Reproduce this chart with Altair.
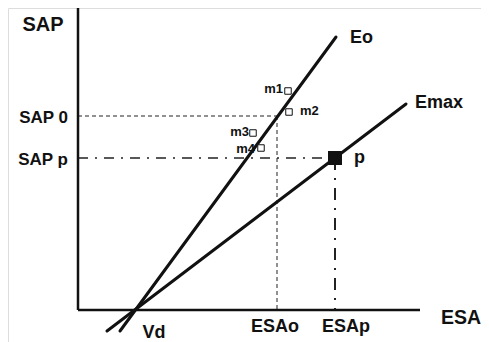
import altair as alt
import pandas as pd

# ---- schematic values (units: arbitrary, origin at the axes' corner) ----
x_axis_end = 342
y_axis_end = 302
vd = 57                 # volume intercept Vd
esa_o, sap_0 = 199, 194 # operating point on Eo
esa_p, sap_p = 257, 152 # point p on Emax

line_names = ["Eo", "Emax"]
line_x1 = [42, 29]
line_y1 = [-21, -21]
line_x2 = [258, 328]
line_y2 = [273, 206]

m_names = ["m1", "m2", "m3", "m4"]
m_x = [210, 211, 175, 183]
m_y = [219, 198, 177, 162]

FONT = "Liberation Sans"
X_DOM = [-70, 403]
Y_DOM = [-32, 302]
W, H = 473, 334

xs = alt.Scale(domain=X_DOM, nice=False, zero=False)
ys = alt.Scale(domain=Y_DOM, nice=False, zero=False)


def rules(df, **mark):
    return alt.Chart(df).mark_rule(**mark).encode(
        x=alt.X("x:Q", scale=xs, axis=None),
        y=alt.Y("y:Q", scale=ys, axis=None),
        x2="x2:Q",
        y2="y2:Q",
    )


axes_df = pd.DataFrame({"x": [0, 0], "y": [0, 0], "x2": [0, x_axis_end], "y2": [y_axis_end, 0]})
lines_df = pd.DataFrame({"name": line_names, "x": line_x1, "y": line_y1, "x2": line_x2, "y2": line_y2})
dash_df = pd.DataFrame({"x": [0, esa_o], "y": [sap_0, sap_0], "x2": [esa_o, esa_o], "y2": [sap_0, 0]})
dd_h = pd.DataFrame({"x": [0], "y": [sap_p], "x2": [esa_p], "y2": [sap_p]})
dd_v = pd.DataFrame({"x": [esa_p], "y": [sap_p], "x2": [esa_p], "y2": [0]})

axes = rules(axes_df, color="#111", strokeWidth=2.5, strokeCap="butt")
main = rules(lines_df, color="#111", strokeWidth=3, strokeCap="round")
dashed = rules(dash_df, color="#222", strokeWidth=1, strokeDash=[4, 3])
ddh = rules(dd_h, color="#222", strokeWidth=1.6, strokeDash=[10, 7, 2, 7])
ddv = rules(dd_v, color="#222", strokeWidth=2, strokeDash=[12, 8, 2, 8])

m_df = pd.DataFrame({"name": m_names, "x": m_x, "y": m_y})
msq = alt.Chart(m_df).mark_square(size=42, filled=False, color="#111", strokeWidth=1, fill="white", fillOpacity=1).encode(
    x=alt.X("x:Q", scale=xs, axis=None), y=alt.Y("y:Q", scale=ys, axis=None)
)
p_df = pd.DataFrame({"x": [esa_p], "y": [sap_p]})
psq = alt.Chart(p_df).mark_square(size=196, color="#111", opacity=1).encode(
    x=alt.X("x:Q", scale=xs, axis=None), y=alt.Y("y:Q", scale=ys, axis=None)
)

# ---- text labels ----
def texts(df, align, size):
    return alt.Chart(df).mark_text(
        align=align, baseline="alphabetic", font=FONT, fontWeight="bold", fontSize=size, color="#111"
    ).encode(
        x=alt.X("x:Q", scale=xs, axis=None), y=alt.Y("y:Q", scale=ys, axis=None), text="t:N"
    )

right_big = pd.DataFrame({"t": ["SAP 0", "SAP p"], "x": [-10, -10], "y": [187, 145]})
left_big = pd.DataFrame({"t": ["Eo", "Emax", "p"], "x": [272, 337, 276], "y": [267, 202, 147]})
center_big = pd.DataFrame({"t": ["Vd", "ESAo", "ESAp"], "x": [76, 197, 268], "y": [-28, -22, -22]})
title_y = pd.DataFrame({"t": ["SAP"], "x": [-35], "y": [279]})
title_x = pd.DataFrame({"t": ["ESA"], "x": [383], "y": [-14]})
m_right = pd.DataFrame({"t": ["m1", "m3", "m4"], "x": [205, 171, 177], "y": [217, 174, 157]})
m_left = pd.DataFrame({"t": ["m2"], "x": [222], "y": [195]})

chart = alt.layer(
    dashed, ddh, ddv, axes, main, msq, psq,
    texts(right_big, "right", 17),
    texts(left_big, "left", 18),
    texts(center_big, "center", 18),
    texts(title_y, "center", 20),
    texts(title_x, "center", 19.5),
    texts(m_right, "right", 13),
    texts(m_left, "left", 13),
).properties(
    width=W, height=H, padding=0, autosize=alt.AutoSizeParams(type="none")
).configure_view(stroke=None).configure(background="white")

chart.save("out.html", embed_options={"renderer": "svg", "actions": False})
